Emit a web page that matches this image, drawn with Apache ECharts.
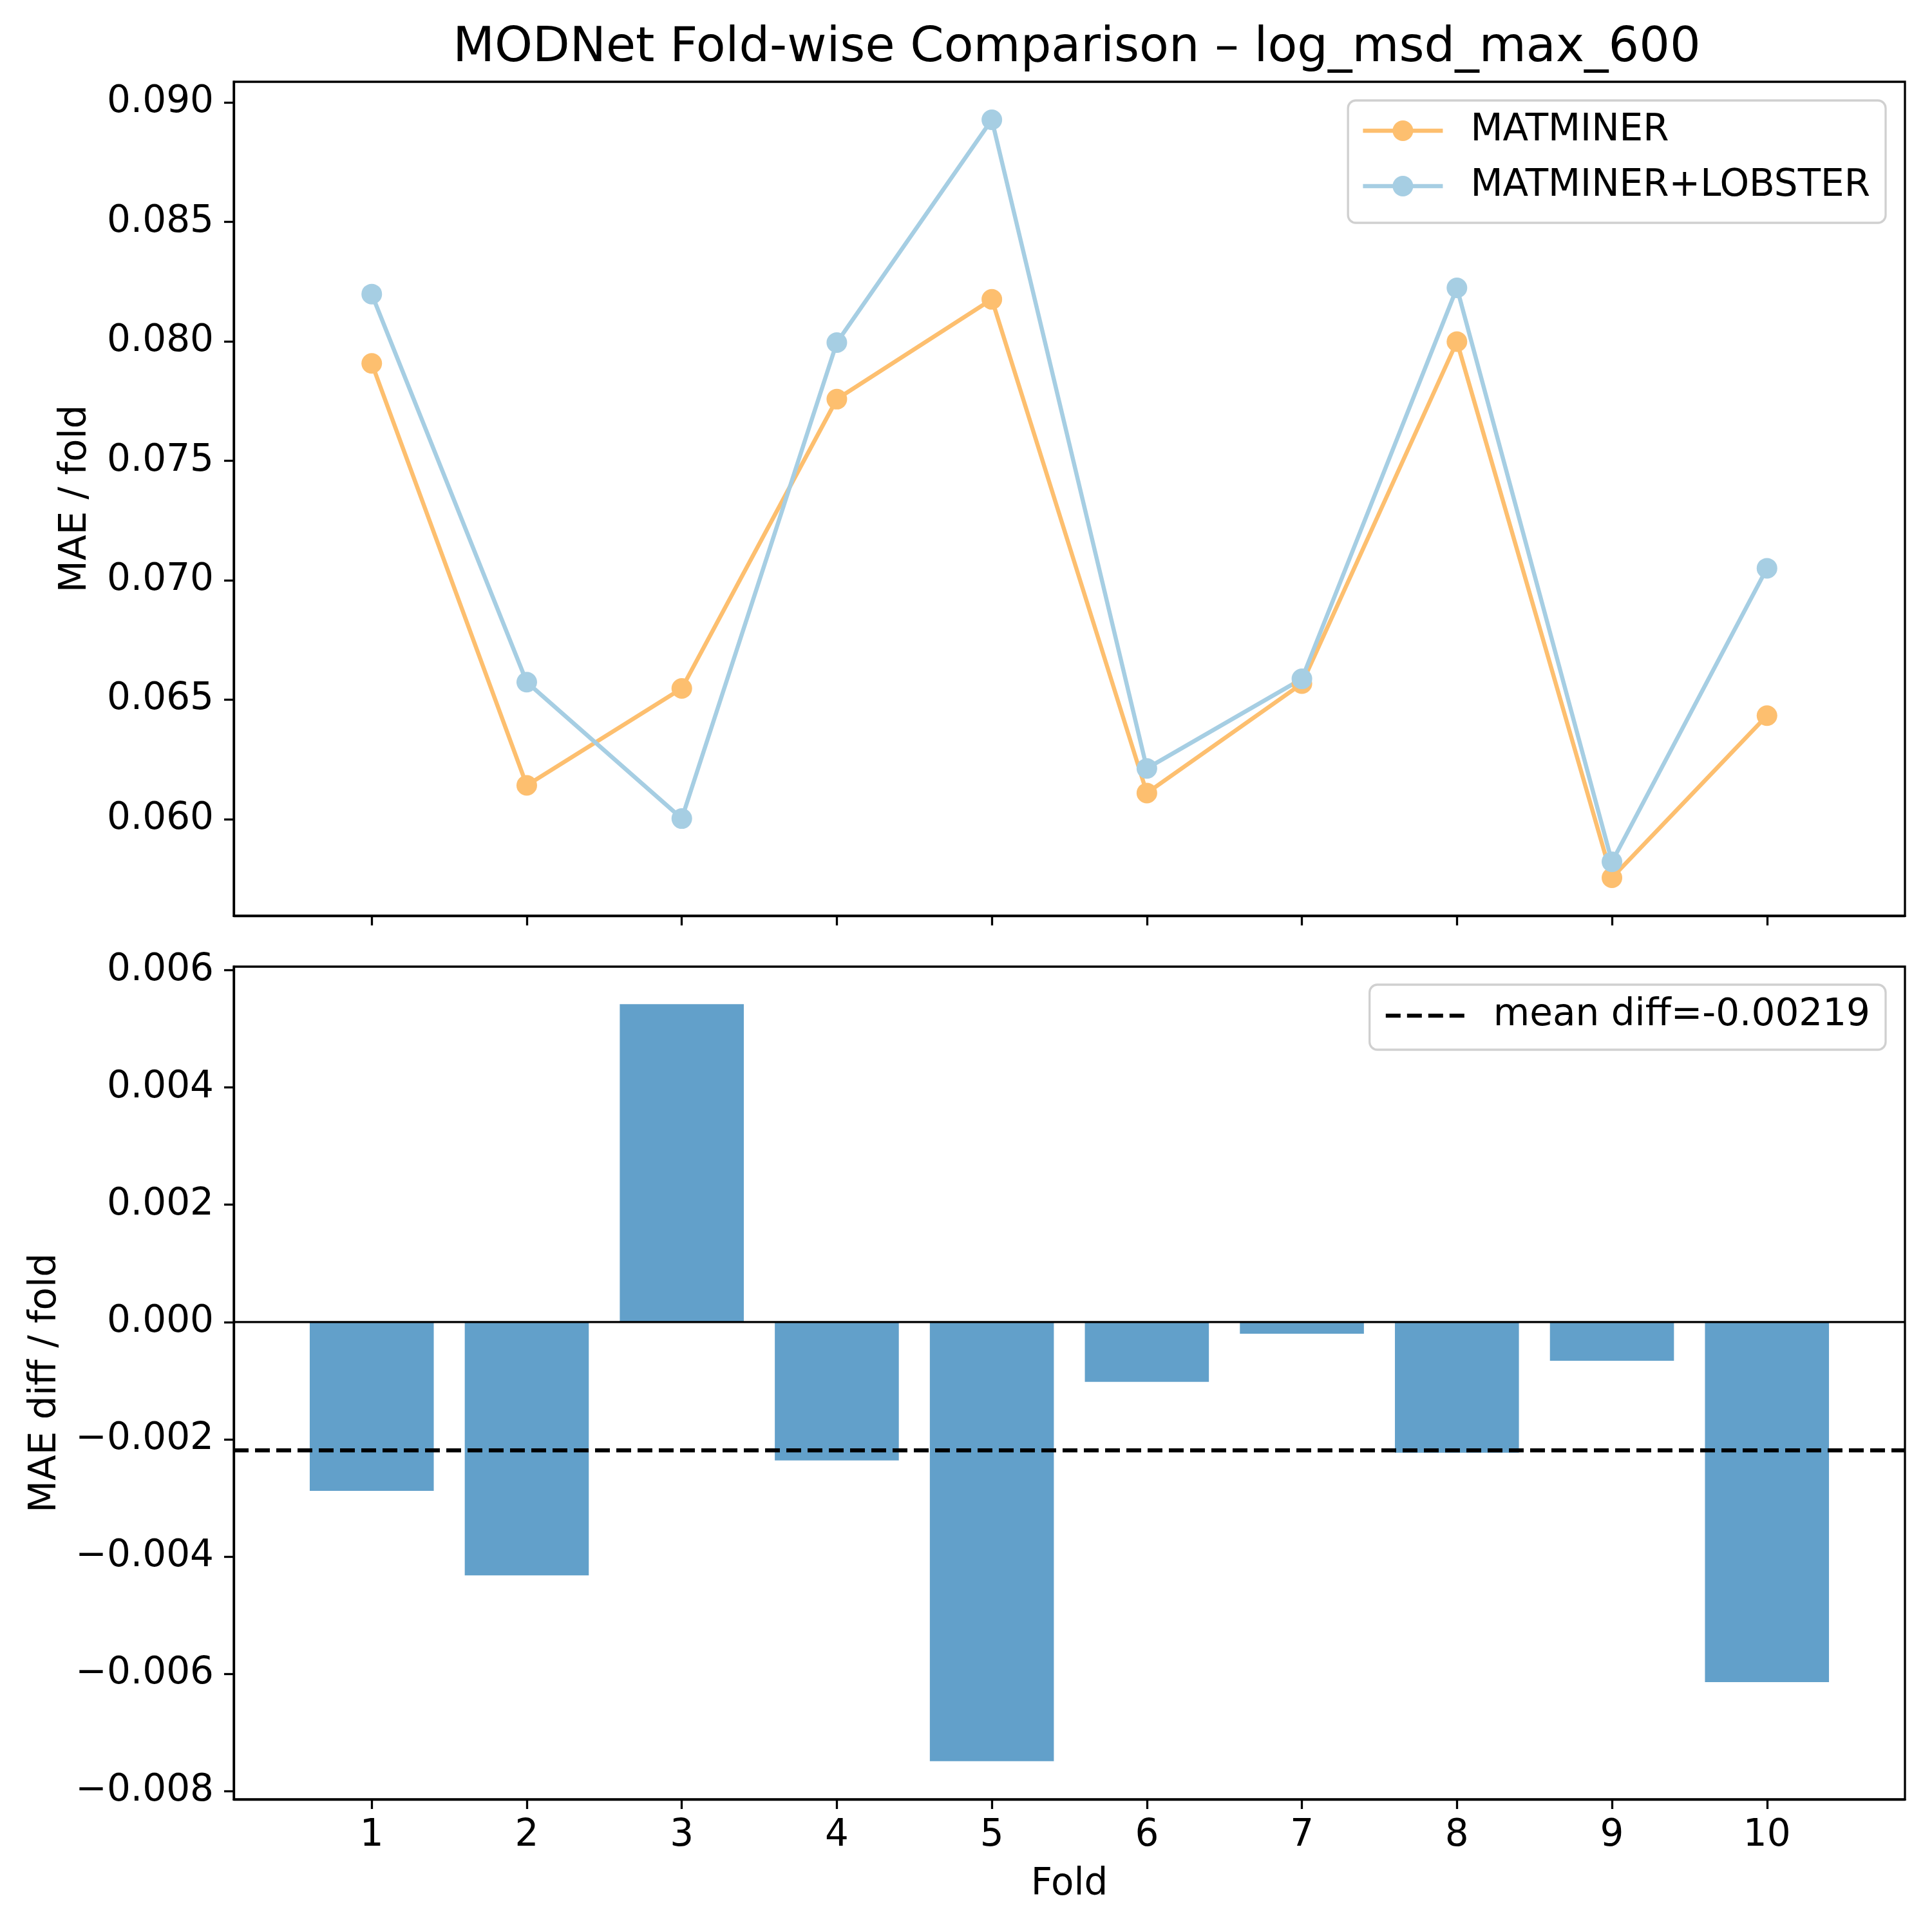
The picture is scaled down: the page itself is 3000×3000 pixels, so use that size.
<!DOCTYPE html>
<html><head><meta charset="utf-8">
<script src="https://cdn.jsdelivr.net/npm/echarts@6/dist/echarts.min.js"></script>
<style>html,body{margin:0;padding:0;background:#fff}#c{width:3000px;height:3000px}</style>
</head><body><div id="c"></div>
<script>
// ---- data ----
const folds = [1, 2, 3, 4, 5, 6, 7, 8, 9, 10];
const matminer = [0.07908, 0.06141, 0.06547, 0.07758, 0.08176, 0.06109, 0.06567, 0.07999, 0.05754, 0.06433];
const matminerLobster = [0.08198, 0.06573, 0.06002, 0.07995, 0.08928, 0.06212, 0.06587, 0.08224, 0.05821, 0.07050];
const maeDiff = [-0.00288, -0.00432, 0.00542, -0.00236, -0.00749, -0.00102, -0.00020, -0.00223, -0.00066, -0.00614];
const meanDiff = -0.00219;
const topTicks = [0.060, 0.065, 0.070, 0.075, 0.080, 0.085, 0.090];
const bottomTicks = [-0.008, -0.006, -0.004, -0.002, 0.000, 0.002, 0.004, 0.006];
const titleText = 'MODNet Fold-wise Comparison \u2013 log_msd_max_600';
const seriesNames = ['MATMINER', 'MATMINER+LOBSTER'];
const meanName = 'mean diff=' + meanDiff.toFixed(5);

// ---- layout ----
const FONT = 'DejaVu Sans';
const FS = 58;
const GRID_L = 363, GRID_W = 2595;
const TOP_T = 127, TOP_H = 1295;
const BOT_T = 1501, BOT_H = 1293;
const X_MIN = 0.11, X_MAX = 10.89;
const TOP_YMIN = 0.05595, TOP_YMAX = 0.09087;
const BOT_YMIN = -0.00814, BOT_YMAX = 0.00606;
const SPINE = 3.3;
const LINE_W = 6.5;
const DASH = [23, 10];
const barWidth = 0.8 * GRID_W / (X_MAX - X_MIN);

const fmt3 = v => (v < -1e-12 ? '\u2212' : '') + Math.abs(v).toFixed(3);

function xAxis(gridIndex, showLabels) {
  return {
    type: 'value', gridIndex, min: X_MIN, max: X_MAX,
    name: showLabels ? 'Fold' : '',
    nameLocation: 'middle', nameGap: 104,
    nameTextStyle: {fontFamily: FONT, fontSize: FS, color: '#000'},
    splitLine: {show: false},
    axisLine: {show: true, onZero: false, lineStyle: {color: '#000', width: SPINE}},
    axisTick: {show: true, inside: false, length: 15, lineStyle: {color: '#000', width: SPINE}, customValues: folds},
    axisLabel: {show: showLabels, customValues: folds, margin: 28, fontFamily: FONT, fontSize: FS, color: '#000',
      formatter: v => String(Math.round(v))}
  };
}
function yAxis(gridIndex, min, max, ticks, name, gap) {
  return {
    type: 'value', gridIndex, min, max, scale: true,
    name, nameLocation: 'middle', nameGap: gap,
    nameTextStyle: {fontFamily: FONT, fontSize: FS, color: '#000'},
    splitLine: {show: false},
    axisLine: {show: true, onZero: false, lineStyle: {color: '#000', width: SPINE}},
    axisTick: {show: true, inside: false, length: 15, lineStyle: {color: '#000', width: SPINE}, customValues: ticks},
    axisLabel: {customValues: ticks, margin: 31, fontFamily: FONT, fontSize: FS, color: '#000', formatter: fmt3}
  };
}

const legendCommon = {
  orient: 'vertical', selectedMode: false,
  itemWidth: 124, itemHeight: 40, itemGap: 28,
  backgroundColor: '#ffffff', borderColor: '#d0d0d0', borderWidth: 3.3, borderRadius: 12,
  textStyle: {fontFamily: FONT, fontSize: FS, color: '#000', padding: [0, 0, 0, 38]}
};

const chart = echarts.init(document.getElementById('c'), null, {renderer: 'canvas'});
chart.setOption({
  backgroundColor: '#ffffff',
  animation: false,
  graphic: [{
    type: 'text', x: 1672, y: 76,
    style: {text: titleText, font: '75px "' + FONT + '"', fill: '#000', textAlign: 'center', textVerticalAlign: 'middle'}
  }],
  grid: [
    {left: GRID_L, top: TOP_T, width: GRID_W, height: TOP_H, show: true, borderColor: '#000', borderWidth: SPINE, backgroundColor: 'transparent'},
    {left: GRID_L, top: BOT_T, width: GRID_W, height: BOT_H, show: true, borderColor: '#000', borderWidth: SPINE, backgroundColor: 'transparent'}
  ],
  xAxis: [xAxis(0, false), xAxis(1, true)],
  yAxis: [
    yAxis(0, TOP_YMIN, TOP_YMAX, topTicks, 'MAE / fold', 216),
    yAxis(1, BOT_YMIN, BOT_YMAX, bottomTicks, 'MAE diff / fold', 263)
  ],
  legend: [
    Object.assign({}, legendCommon, {data: seriesNames, right: 72, top: 156, padding: [18, 24, 28, 20],
      lineStyle: {width: LINE_W}}),
    Object.assign({}, legendCommon, {data: [meanName], right: 72, top: 1529, padding: [19, 24, 24, 22],
      lineStyle: {width: 6.25, type: DASH, color: '#000'}})
  ],
  series: [
    {
      name: seriesNames[0], type: 'line', xAxisIndex: 0, yAxisIndex: 0,
      data: folds.map((f, i) => [f, matminer[i]]),
      symbol: 'circle', symbolSize: 32, color: '#fdbf6f',
      lineStyle: {color: '#fdbf6f', width: LINE_W}, itemStyle: {color: '#fdbf6f'},
      emphasis: {disabled: true}
    },
    {
      name: seriesNames[1], type: 'line', xAxisIndex: 0, yAxisIndex: 0,
      data: folds.map((f, i) => [f, matminerLobster[i]]),
      symbol: 'circle', symbolSize: 32, color: '#a6cee3',
      lineStyle: {color: '#a6cee3', width: LINE_W}, itemStyle: {color: '#a6cee3'},
      emphasis: {disabled: true}
    },
    {
      name: 'diff', type: 'bar', xAxisIndex: 1, yAxisIndex: 1,
      data: folds.map((f, i) => [f, maeDiff[i]]),
      barWidth: barWidth,
      itemStyle: {color: '#1f77b4', opacity: 0.7},
      emphasis: {disabled: true}
    },
    {
      name: 'zero', type: 'line', xAxisIndex: 1, yAxisIndex: 1,
      data: [[X_MIN, 0], [X_MAX, 0]], symbol: 'none', silent: true,
      lineStyle: {type: 'solid', width: SPINE, color: '#000'}, emphasis: {disabled: true}
    },
    {
      name: meanName, type: 'line', xAxisIndex: 1, yAxisIndex: 1,
      data: [[X_MIN, meanDiff], [X_MAX, meanDiff]], symbol: 'none', silent: true,
      itemStyle: {color: 'rgba(0,0,0,0)', borderWidth: 0},
      lineStyle: {type: DASH, width: 6.25, color: '#000'}, emphasis: {disabled: true}
    }
  ]
});
</script>
</body></html>
